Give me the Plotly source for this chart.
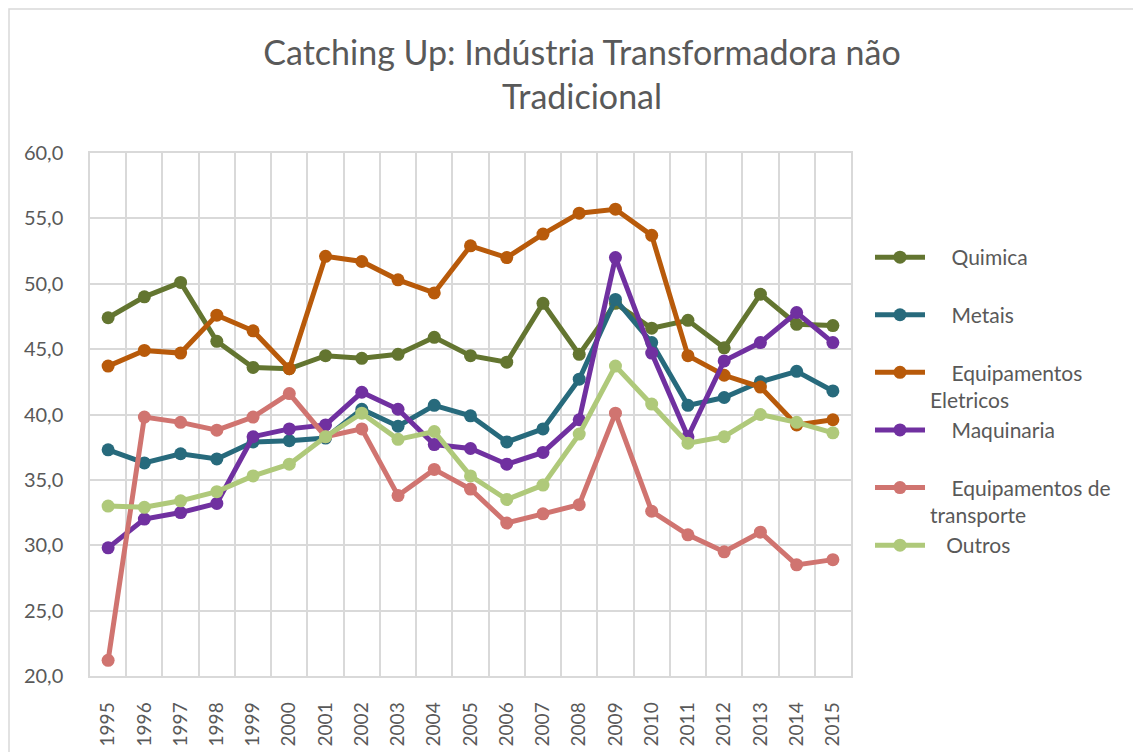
import plotly.graph_objects as go

years = list(range(1995, 2016))

quimica = [47.4, 49.0, 50.1, 45.6, 43.6, 43.5, 44.5, 44.3, 44.6, 45.9, 44.5, 44.0, 48.5, 44.6, 48.5, 46.6, 47.2, 45.1, 49.2, 46.9, 46.8]
metais = [37.3, 36.3, 37.0, 36.6, 37.9, 38.0, 38.2, 40.4, 39.1, 40.7, 39.9, 37.9, 38.9, 42.7, 48.8, 45.5, 40.7, 41.3, 42.5, 43.3, 41.8]
eletricos = [43.7, 44.9, 44.7, 47.6, 46.4, 43.5, 52.1, 51.7, 50.3, 49.3, 52.9, 52.0, 53.8, 55.4, 55.7, 53.7, 44.5, 43.0, 42.1, 39.2, 39.6]
maquinaria = [29.8, 32.0, 32.5, 33.2, 38.3, 38.9, 39.2, 41.7, 40.4, 37.7, 37.4, 36.2, 37.1, 39.6, 52.0, 44.7, 38.3, 44.1, 45.5, 47.8, 45.5]
transporte = [21.2, 39.8, 39.4, 38.8, 39.8, 41.6, 38.3, 38.9, 33.8, 35.8, 34.3, 31.7, 32.4, 33.1, 40.1, 32.6, 30.8, 29.5, 31.0, 28.5, 28.9]
outros = [33.0, 32.9, 33.4, 34.1, 35.3, 36.2, 38.3, 40.1, 38.1, 38.7, 35.3, 33.5, 34.6, 38.5, 43.7, 40.8, 37.8, 38.3, 40.0, 39.4, 38.6]

series_names = [
    "\u00a0\u00a0\u00a0\u00a0Quimica<br>\u00a0",
    "\u00a0\u00a0\u00a0\u00a0Metais<br>\u00a0",
    "\u00a0\u00a0\u00a0\u00a0Equipamentos<br>Eletricos",
    "\u00a0\u00a0\u00a0\u00a0Maquinaria<br>\u00a0",
    "\u00a0\u00a0\u00a0\u00a0Equipamentos de<br>transporte",
    "\u00a0\u00a0\u00a0Outros",
]
series_values = [quimica, metais, eletricos, maquinaria, transporte, outros]
colors = ["#637530", "#276a7c", "#b85a0a", "#7030a0", "#d07470", "#afc97a"]

FONT = "Lato"
TXT = "#595959"
GRID = "#d9d9d9"

# the page has an 8px body margin; the figure is laid out relative to it
W, H = 1133, 744
L, R, T, B = 82, 290, 145, 76

fig = go.Figure()
for i, (name, vals, c) in enumerate(zip(series_names, series_values, colors)):
    fig.add_trace(go.Scatter(
        x=years, y=vals, name=name, mode="lines+markers",
        line=dict(color=c, width=5),
        marker=dict(color=c, size=13),
        legendgroup=f"g{i}",
    ))

pw = W - L - R
ph = H - T - B

fig.update_layout(
    width=W, height=H,
    margin=dict(l=L, r=R, t=T, b=B, autoexpand=False),
    paper_bgcolor="white", plot_bgcolor="white",
    separators=",.",
    font=dict(family=FONT, color=TXT, size=19),
    title=dict(
        text="Catching Up: Indústria Transformadora não<br>Tradicional",
        font=dict(family=FONT, size=34, color=TXT),
        x=574 / W, xref="container", xanchor="center",
        y=1 - 57 / H, yref="container", yanchor="top",
    ),
    showlegend=True,
    legend=dict(
        x=862 / W, xref="container", xanchor="left",
        y=1 - 229 / H, yref="container", yanchor="top",
        font=dict(family=FONT, size=21, color=TXT),
        valign="top",
        tracegroupgap=0,
        itemwidth=50,
        bgcolor="rgba(0,0,0,0)",
    ),
    xaxis=dict(
        range=[1994.5, 2015.5],
        tickmode="array", tickvals=years, ticktext=[str(y) for y in years],
        tickangle=-90, tickfont=dict(size=19, color=TXT, family=FONT),
        showgrid=False, zeroline=False,
        showline=True, linecolor=GRID, linewidth=1.5, mirror=True,
        ticks="", ticklabelstandoff=17,
        minor=dict(tick0=1994.5, dtick=1, showgrid=True, gridcolor=GRID, gridwidth=1.5, ticks=""),
        fixedrange=True,
    ),
    yaxis=dict(
        range=[20, 60], dtick=5, tickformat=".1f",
        tickfont=dict(size=20, color=TXT, family=FONT),
        showgrid=True, gridcolor=GRID, gridwidth=1.5, zeroline=False,
        showline=True, linecolor=GRID, linewidth=1.5, mirror=True,
        ticks="", ticklabelstandoff=21,
        fixedrange=True,
    ),
    shapes=[dict(
        type="rect", xref="paper", yref="paper",
        x0=(1 - L) / pw, x1=1.6, y0=-0.6, y1=(ph + T - 1) / ph,
        line=dict(color=GRID, width=1.5), fillcolor="rgba(0,0,0,0)", layer="below",
    )],
)

fig.write_html("out.html")
